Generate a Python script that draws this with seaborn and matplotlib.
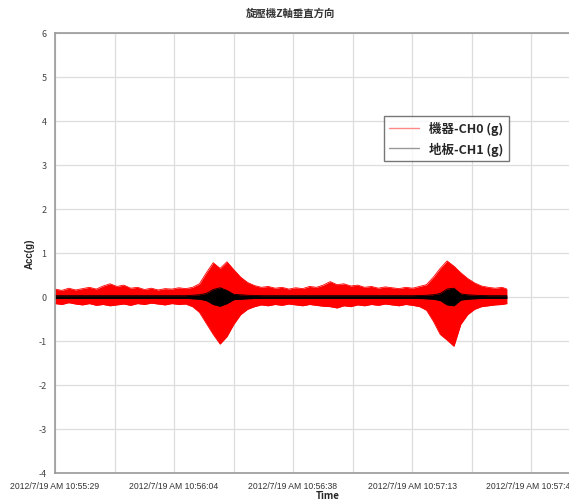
import numpy as np
import pandas as pd
import seaborn as sns
from matplotlib import pyplot as plt
from matplotlib import ticker

# time axis in seconds from 2012/7/19 AM 10:55:29
t = [0, 2, 4, 6, 8, 10, 12, 14, 16, 18, 20, 22, 24, 26, 28, 30, 32, 34, 36, 38,
     40, 42, 44, 46, 48, 50, 52, 54, 56, 58, 60, 62, 64, 66, 68, 70, 72, 74, 76, 78,
     80, 82, 84, 86, 88, 90, 92, 94, 96, 98, 100, 102, 104, 106, 108, 110, 112, 114, 116, 118,
     120, 122, 124, 126, 128, 130, 131.4]

# envelope of CH0 (machine)
ch0_up = [.18, .15, .20, .16, .19, .22, .18, .25, .30, .24, .27, .20, .22, .17, .20, .16, .19, .18, .21, .19,
          .22, .30, .55, .78, .65, .80, .62, .45, .33, .26, .22, .24, .20, .22, .18, .21, .19, .24, .22, .27,
          .35, .28, .30, .25, .27, .22, .24, .20, .23, .21, .19, .22, .20, .24, .28, .45, .65, .82, .70, .55,
          .42, .32, .25, .22, .20, .22, .18]
ch0_lo = [-.15, -.17, -.13, -.16, -.18, -.15, -.19, -.17, -.20, -.18, -.16, -.19, -.15, -.17, -.14, -.16, -.18, -.15, -.17, -.16,
          -.22, -.35, -.60, -.85, -1.07, -.90, -.62, -.40, -.28, -.22, -.18, -.20, -.17, -.19, -.16, -.18, -.20, -.17, -.19, -.21,
          -.22, -.25, -.20, -.22, -.18, -.20, -.17, -.19, -.16, -.18, -.20, -.17, -.19, -.22, -.30, -.55, -.85, -.98, -1.12, -.62,
          -.40, -.28, -.22, -.20, -.18, -.17, -.15]

# envelope of CH1 (floor)
ch1_up = [.03, .03, .03, .03, .03, .03, .03, .03, .03, .03, .03, .03, .03, .03, .03, .03, .03, .03, .03, .03,
          .04, .05, .08, .17, .21, .15, .06, .05, .04, .035, .03, .03, .03, .03, .03, .03, .03, .03, .03, .03,
          .03, .03, .03, .03, .03, .03, .03, .03, .03, .03, .03, .03, .03, .035, .04, .05, .08, .18, .20, .07,
          .05, .04, .035, .03, .03, .03, .03]
ch1_lo = [-v for v in ch1_up]

xtick_labels = ["2012/7/19 AM 10:55:29", "2012/7/19 AM 10:56:04", "2012/7/19 AM 10:56:38",
                "2012/7/19 AM 10:57:13", "2012/7/19 AM 10:57:47"]
tick_step = 34.6

sns.set_style("white")
plt.rcParams['font.family'] = ['Noto Sans CJK TC', 'DejaVu Sans']
plt.rcParams['axes.unicode_minus'] = False

fig = plt.figure(figsize=(5.69, 5.02), dpi=100)
ax = fig.add_axes([55 / 569, 28 / 502, 545 / 569, 440 / 502])

df = pd.DataFrame({'t': t, 'ch0_up': ch0_up, 'ch0_lo': ch0_lo, 'ch1_up': ch1_up, 'ch1_lo': ch1_lo})

ax.fill_between(df['t'], df['ch0_lo'], df['ch0_up'], color='#ff0000', lw=0)
sns.lineplot(data=df, x='t', y='ch0_up', color='#ff0000', lw=0.6, ax=ax, label='機器-CH0 (g)')
sns.lineplot(data=df, x='t', y='ch0_lo', color='#ff0000', lw=0.6, ax=ax)
ax.fill_between(df['t'], df['ch1_lo'], df['ch1_up'], color='black', lw=0)
sns.lineplot(data=df, x='t', y='ch1_up', color='black', lw=0.6, ax=ax, label='地板-CH1 (g)')
sns.lineplot(data=df, x='t', y='ch1_lo', color='black', lw=0.6, ax=ax)

ax.set_xlim(0, 545 / (119 / tick_step))
ax.set_ylim(-4, 6)
ax.xaxis.set_major_locator(ticker.FixedLocator([tick_step * i for i in range(len(xtick_labels))]))
ax.xaxis.set_minor_locator(ticker.MultipleLocator(tick_step / 2))
ax.set_xticklabels(xtick_labels, family=['Liberation Sans', 'DejaVu Sans'], fontsize=6.2, color='#333333')
ax.yaxis.set_major_locator(ticker.MultipleLocator(1))
ax.tick_params(axis='y', labelsize=6.5, labelcolor='#444444', length=0, pad=6)
ax.tick_params(axis='x', length=0, pad=6)
ax.grid(True, which='both', color='#dddddd', lw=0.9)
for s in ['left', 'bottom', 'top']:
    ax.spines[s].set_color('#999999')
    ax.spines[s].set_linewidth(1.2)
ax.spines['right'].set_visible(False)

ax.set_xlabel('Time', fontsize=7, fontweight='bold', labelpad=0)
ax.set_ylabel('Acc(g)', fontsize=7, fontweight='bold', labelpad=3,
              family=['Liberation Sans', 'DejaVu Sans'])
ax.set_title('旋壓機Z軸垂直方向', fontsize=7.5, fontweight='bold', color='#333333', x=(290 - 55) / 545, pad=12)

leg = ax.legend(loc='upper left', bbox_to_anchor=((378 - 55) / 545, (474 - 111) / 440),
                frameon=True, fancybox=False, handlelength=2.4, borderpad=0.4,
                prop={'weight': 'bold', 'size': 9})
leg.get_frame().set_edgecolor('#555555')
leg.get_frame().set_linewidth(1)
for line, c in zip(leg.get_lines(), ['#ff8888', '#999999']):
    line.set_color(c)
    line.set_linewidth(1)

plt.savefig('out.png', dpi=100)
